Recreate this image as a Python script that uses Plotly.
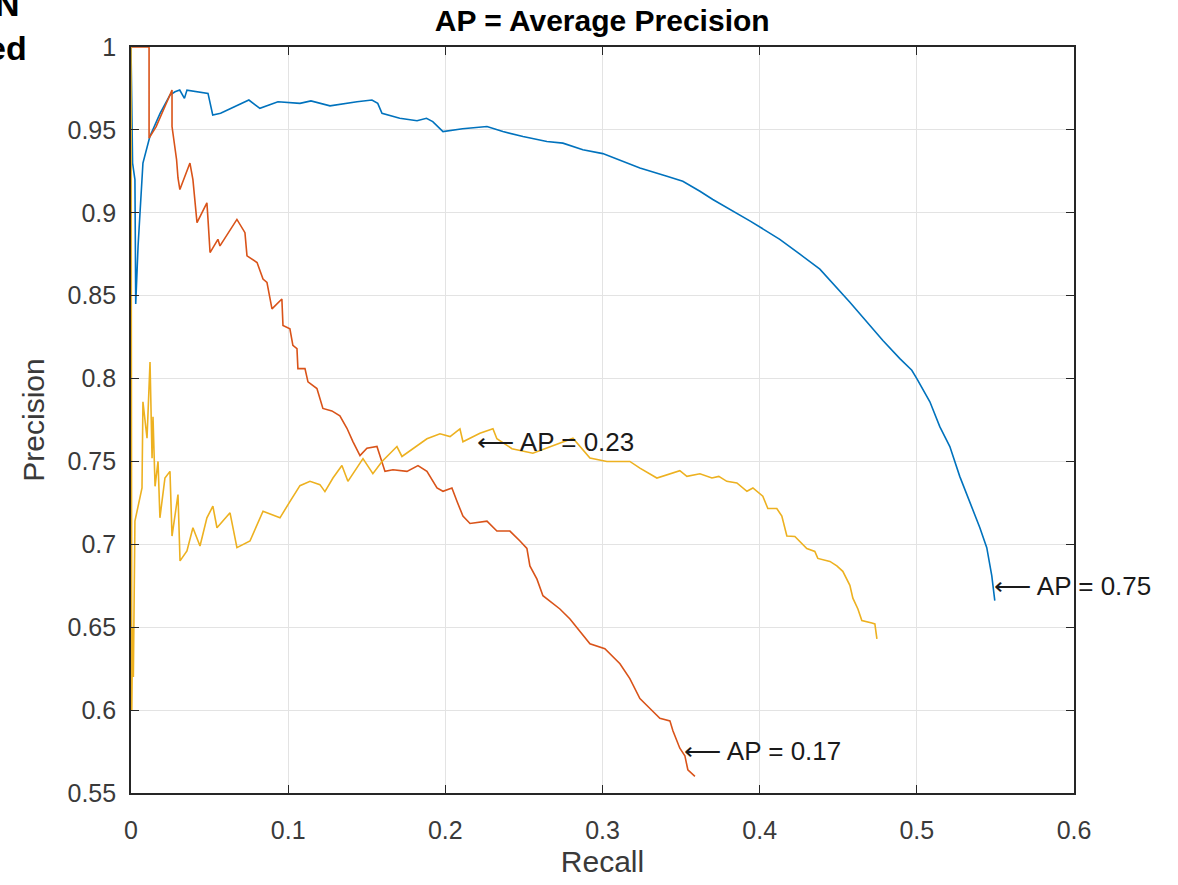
import plotly.graph_objects as go

# ---------------- data ----------------
blue_recall = [0, 0.001, 0.0025, 0.003, 0.0045, 0.0076, 0.012, 0.0185, 0.0248, 0.028, 0.031, 0.034,
               0.0356, 0.044, 0.049, 0.052, 0.057, 0.075, 0.082, 0.0935, 0.1075, 0.1145, 0.1266,
               0.1438, 0.1533, 0.157, 0.1597, 0.171, 0.182, 0.188, 0.192, 0.1985, 0.211, 0.2265,
               0.2366, 0.2494, 0.2646, 0.2748, 0.2875, 0.3002, 0.3130, 0.3238, 0.3410, 0.3511,
               0.3620, 0.3702, 0.394, 0.4128, 0.4256, 0.4383, 0.4574, 0.4657, 0.4784, 0.4892,
               0.4968, 0.5, 0.5083, 0.5146, 0.5210, 0.5273, 0.5337, 0.5401, 0.5445, 0.5477, 0.5496]
blue_precision = [1.0, 0.93, 0.92, 0.845, 0.88, 0.930, 0.946, 0.960, 0.971, 0.973, 0.974, 0.969,
                  0.974, 0.973, 0.972, 0.959, 0.960, 0.968, 0.963, 0.967, 0.966, 0.9675, 0.9645,
                  0.967, 0.968, 0.966, 0.960, 0.957, 0.9555, 0.957, 0.955, 0.949, 0.9507, 0.952,
                  0.949, 0.946, 0.943, 0.942, 0.938, 0.9357, 0.9308, 0.927, 0.922, 0.919,
                  0.913, 0.908, 0.895, 0.884, 0.875, 0.866, 0.846, 0.837, 0.823, 0.812,
                  0.805, 0.800, 0.786, 0.771, 0.759, 0.741, 0.726, 0.710, 0.698, 0.681, 0.666]

orange_recall = [0, 0.0115, 0.0115, 0.016, 0.022, 0.0261, 0.0261, 0.029, 0.0299, 0.0311, 0.0375,
                 0.0394, 0.0420, 0.0483, 0.0490, 0.0503, 0.0553, 0.0566, 0.0674, 0.0725, 0.0738,
                 0.0802, 0.0840, 0.0865, 0.0897, 0.0960, 0.0967, 0.1011, 0.1030, 0.1056, 0.1062,
                 0.1107, 0.1126, 0.1183, 0.1221, 0.1278, 0.1329, 0.1374, 0.1412, 0.1457, 0.1501,
                 0.1565, 0.1616, 0.1667, 0.1756, 0.1826, 0.1883, 0.1947, 0.1985, 0.2042, 0.2074,
                 0.2112, 0.2157, 0.2265, 0.2328, 0.2411, 0.2475, 0.2519, 0.2538, 0.2583, 0.2621,
                 0.2729, 0.2793, 0.2920, 0.3015, 0.3111, 0.3174, 0.3238, 0.3302, 0.3365, 0.3429,
                 0.3448, 0.3492, 0.3524, 0.3543, 0.3588]
orange_precision = [1.0, 1.0, 0.945, 0.952, 0.965, 0.974, 0.952, 0.932, 0.921, 0.914, 0.930,
                    0.920, 0.894, 0.906, 0.896, 0.876, 0.884, 0.880, 0.896, 0.888, 0.874,
                    0.870, 0.860, 0.858, 0.842, 0.848, 0.832, 0.830, 0.820, 0.818, 0.806,
                    0.806, 0.798, 0.794, 0.782, 0.7805, 0.7775, 0.770, 0.762, 0.7535, 0.758,
                    0.759, 0.744, 0.745, 0.744, 0.7475, 0.744, 0.734, 0.732, 0.734, 0.726,
                    0.717, 0.7126, 0.714, 0.708, 0.708, 0.702, 0.6975, 0.687, 0.679, 0.669,
                    0.661, 0.655, 0.640, 0.637, 0.628, 0.619, 0.607, 0.601, 0.595, 0.5935,
                    0.5875, 0.577, 0.5725, 0.564, 0.560]

yellow_recall = [0, 0.0005, 0.001, 0.0015, 0.0025, 0.0070, 0.0076, 0.0102, 0.0121, 0.0134, 0.0140,
                 0.0153, 0.0172, 0.0184, 0.0216, 0.0248, 0.0261, 0.0299, 0.0312, 0.0356, 0.0394,
                 0.0439, 0.0483, 0.0521, 0.0547, 0.0630, 0.0674, 0.0757, 0.0840, 0.0948, 0.1011,
                 0.1075, 0.1139, 0.1202, 0.1234, 0.1285, 0.1342, 0.1380, 0.1476, 0.1539, 0.1597,
                 0.1692, 0.1724, 0.1819, 0.1883, 0.1966, 0.2030, 0.2093, 0.2112, 0.2220, 0.2303,
                 0.2328, 0.2424, 0.2557, 0.2666, 0.2812, 0.2920, 0.3028, 0.3174, 0.3238, 0.3346,
                 0.3492, 0.3537, 0.3620, 0.3696, 0.3740, 0.3791, 0.3855, 0.3919, 0.3957, 0.4020,
                 0.4052, 0.4109, 0.4141, 0.4173, 0.4224, 0.4300, 0.4351, 0.4370, 0.4447, 0.4491,
                 0.4529, 0.4574, 0.4593, 0.4625, 0.4650, 0.4714, 0.4733, 0.4746]
yellow_precision = [1.0, 0.60, 0.65, 0.62, 0.714, 0.734, 0.786, 0.764, 0.810, 0.752, 0.777,
                    0.735, 0.750, 0.716, 0.740, 0.744, 0.705, 0.730, 0.690, 0.696, 0.710,
                    0.699, 0.716, 0.723, 0.710, 0.719, 0.698, 0.702, 0.720, 0.716, 0.7258,
                    0.7354, 0.738, 0.736, 0.7318, 0.740, 0.7475, 0.738, 0.7517, 0.7426, 0.750,
                    0.759, 0.753, 0.7595, 0.7637, 0.7667, 0.765, 0.7697, 0.7619, 0.767, 0.7697,
                    0.7637, 0.7577, 0.755, 0.759, 0.764, 0.752, 0.750, 0.750, 0.746, 0.740,
                    0.7444, 0.741, 0.7426, 0.740, 0.741, 0.738, 0.737, 0.732, 0.734, 0.729,
                    0.7216, 0.7216, 0.717, 0.705, 0.7047, 0.6975, 0.6957, 0.6915, 0.6897, 0.687,
                    0.6837, 0.6753, 0.6675, 0.661, 0.654, 0.6525, 0.652, 0.643]

ap_labels = ["AP = 0.75", "AP = 0.17", "AP = 0.23"]
ap_points_x = [0.5477, 0.3505, 0.2188]
ap_points_y = [0.675, 0.5755, 0.7619]

x_ticks = [0, 0.1, 0.2, 0.3, 0.4, 0.5, 0.6]
x_tick_text = ["0", "0.1", "0.2", "0.3", "0.4", "0.5", "0.6"]
y_ticks = [0.55, 0.6, 0.65, 0.7, 0.75, 0.8, 0.85, 0.9, 0.95, 1.0]
y_tick_text = ["0.55", "0.6", "0.65", "0.7", "0.75", "0.8", "0.85", "0.9", "0.95", "1"]

# ---------------- styles ----------------
FONT = "Liberation Sans, Arial, Helvetica, sans-serif"
AX = "#262626"
colors = ["#0072BD", "#D95319", "#EDB120"]

fig = go.Figure()
for xs, ys, c in [(blue_recall, blue_precision, colors[0]),
                  (orange_recall, orange_precision, colors[1]),
                  (yellow_recall, yellow_precision, colors[2])]:
    fig.add_trace(go.Scatter(x=xs, y=ys, mode="lines", line=dict(color=c, width=1.6),
                             showlegend=False, hoverinfo="skip"))

for txt, ax_, ay_ in zip(ap_labels, ap_points_x, ap_points_y):
    fig.add_annotation(x=ax_, y=ay_, xref="x", yref="y", text="\u27f5 " + txt,
                       showarrow=False, xanchor="left", yanchor="middle",
                       font=dict(family=FONT, size=26, color="#1a1a1a"))

# cropped slide text at the top-left (partly outside the picture, as in the reference)
fig.add_annotation(x=-0.1082, y=0.9987, xref="paper", yref="paper", text="<b>ed</b>",
                   showarrow=False, xanchor="right", yanchor="middle",
                   font=dict(family=FONT, size=34, color="black"))
fig.add_annotation(x=-0.1155, y=1.058, xref="paper", yref="paper", text="<b>N</b>",
                   showarrow=False, xanchor="right", yanchor="middle",
                   font=dict(family=FONT, size=34, color="black"))

axis_common = dict(showline=True, linecolor=AX, linewidth=1.6, mirror="allticks",
                   ticks="inside", ticklen=8, tickwidth=1.3, tickcolor=AX,
                   showgrid=True, gridcolor="#e3e3e3", gridwidth=1.2, zeroline=False,
                   tickfont=dict(family=FONT, size=25, color="#3a3a3a"))

fig.update_xaxes(range=[0, 0.6], tickvals=x_ticks, ticktext=x_tick_text,
                 title=dict(text="Recall", font=dict(family=FONT, size=30, color="#3a3a3a"), standoff=8),
                 ticklabelstandoff=14, **axis_common)
fig.update_yaxes(range=[0.55, 1.0], tickvals=y_ticks, ticktext=y_tick_text,
                 title=dict(text="Precision", font=dict(family=FONT, size=30, color="#3a3a3a"), standoff=14),
                 ticklabelstandoff=8, **axis_common)

fig.update_layout(
    width=1178, height=885,
    margin=dict(l=131, r=104, t=47, b=90),
    paper_bgcolor="white", plot_bgcolor="white",
    title=dict(text="<b>AP = Average Precision</b>", x=0.5112, xanchor="center",
               y=0.977, yanchor="middle", font=dict(family=FONT, size=30, color="black")),
)

fig.write_html("out.html")
